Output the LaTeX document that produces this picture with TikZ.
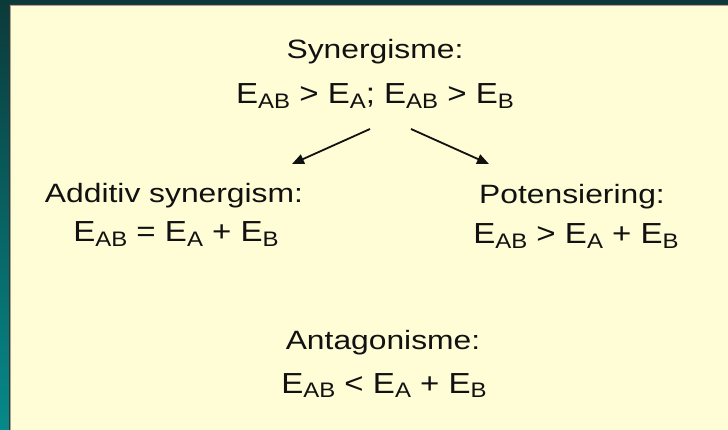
\documentclass[tikz,border=0pt]{standalone}
\usepackage{fontspec}
\setmainfont{Liberation Sans}
\usetikzlibrary{arrows.meta}
\definecolor{panel}{HTML}{FFFDD6}
\definecolor{darkband}{HTML}{0B3A3A}
\definecolor{tealbot}{HTML}{06898A}
\definecolor{edgegray}{HTML}{A8A690}
\definecolor{ink}{HTML}{111111}
\newcommand\Esb[1]{E\raisebox{-0.15em}{\fontsize{21}{21}\selectfont #1}}
\newcommand\lbltxt[1]{\fontsize{26.5}{30}\selectfont\scalebox{1.2}[1]{#1}}
\newcommand\eqtxt[1]{\fontsize{29}{32}\selectfont\scalebox{1.14}[1]{#1}}
\tikzset{
  lbl/.style={anchor=base, inner sep=0pt, text=ink},
  arr/.style={draw=ink, line width=1.8pt, -{Triangle[length=12pt,width=10pt]}}
}
\begin{document}
\begin{tikzpicture}[x=1pt,y=-1pt]
\useasboundingbox (0,0) rectangle (728,430);
% background bands
\shade[top color=darkband, bottom color=tealbot] (0,0) rectangle (10,430);
\fill[darkband] (0,0) rectangle (728,4);
% panel
\fill[panel] (10,5) rectangle (728,430);
\draw[edgegray, line width=1.2pt] (10.6,430) -- (10.6,5.6) -- (728,5.6);
\draw[black!80, line width=0.8pt] (9.4,430) -- (9.4,4.4) -- (728,4.4);
% texts
\node[lbl] (syn) at (375,59) {\lbltxt{Synergisme:}};
\node[lbl] (syneq) at (375,104) {\eqtxt{\Esb{AB} > \Esb{A}; \Esb{AB} > \Esb{B}}};
\node[lbl] (add) at (174,203) {\lbltxt{Additiv synergism:}};
\node[lbl] (addeq) at (176,242) {\eqtxt{\Esb{AB} = \Esb{A} + \Esb{B}}};
\node[lbl] (pot) at (572,204) {\lbltxt{Potensiering:}};
\node[lbl] (poteq) at (576,244) {\eqtxt{\Esb{AB} > \Esb{A} + \Esb{B}}};
\node[lbl] (ant) at (383,349) {\lbltxt{Antagonisme:}};
\node[lbl] (anteq) at (384,393) {\eqtxt{\Esb{AB} < \Esb{A} + \Esb{B}}};
% arrows
\coordinate (l0) at (370,129);
\coordinate (l1) at (292,164);
\coordinate (r0) at (411,129);
\coordinate (r1) at (489,164);
\draw[arr] (l0) -- (l1);
\draw[arr] (r0) -- (r1);
\end{tikzpicture}
\end{document}
